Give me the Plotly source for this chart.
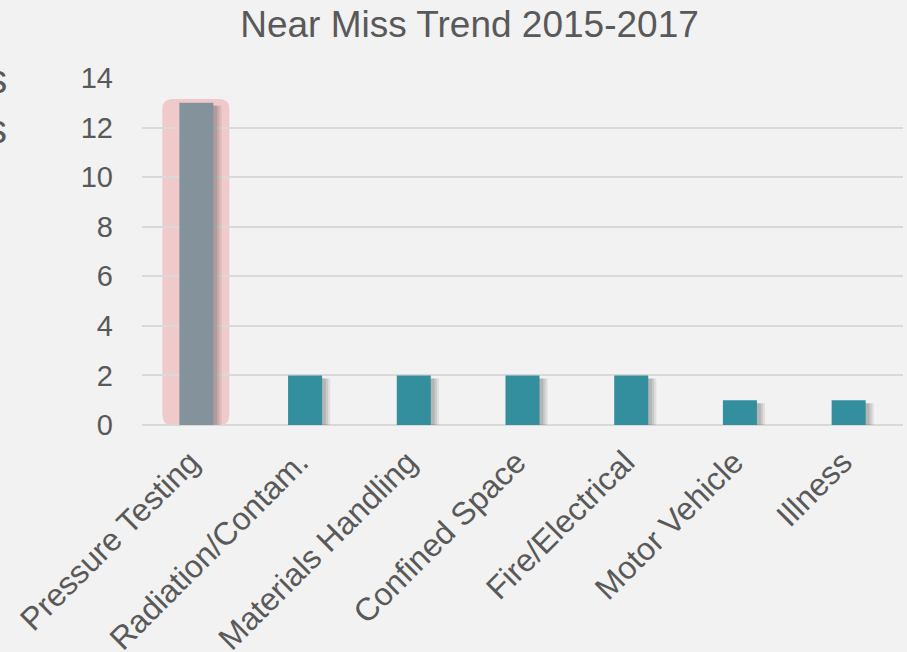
import plotly.graph_objects as go

categories = ["Pressure Testing", "Radiation/Contam.", "Materials Handling",
              "Confined Space", "Fire/Electrical", "Motor Vehicle", "Illness"]
values = [13, 2, 2, 2, 2, 1, 1]
bar_colors = ["#84939b"] + ["#338f9e"] * 6
y_ticks = [0, 2, 4, 6, 8, 10, 12, 14]
side_texts = ["Near Misses", "Incidents"]

W = 0.313
fig = go.Figure()

# soft shadow layers
for k, a in [(0.075, 0.10), (0.055, 0.12), (0.035, 0.14)]:
    fig.add_trace(go.Bar(
        x=categories, y=[v - 0.05 for v in values], base=-0.07,
        width=W, offset=-W / 2 + k,
        marker=dict(color=f"rgba(60,60,60,{a})", line=dict(width=0)),
        hoverinfo="skip", showlegend=False))
fig.add_trace(go.Bar(
    x=categories, y=values, width=W, offset=-W / 2,
    marker=dict(color=bar_colors, line=dict(width=0)),
    showlegend=False))

# highlight rounded rectangle around first bar (pixel sized, anchored at bar base)
r = 10
x0, x1, y0, y1 = -34, 33, 0, 326
path = (f"M {x0+r},{y0} L {x1-r},{y0} Q {x1},{y0} {x1},{y0+r} "
        f"L {x1},{y1-r} Q {x1},{y1} {x1-r},{y1} L {x0+r},{y1} "
        f"Q {x0},{y1} {x0},{y1-r} L {x0},{y0+r} Q {x0},{y0} {x0+r},{y0} Z")
fig.add_shape(type="path", xref="x", yref="y", xsizemode="pixel", ysizemode="pixel",
              xanchor=categories[0], yanchor=0, path=path,
              fillcolor="#f0cacb", line=dict(width=0), layer="below")

for py, txt in [(79, side_texts[0]), (129, side_texts[1])]:
    fig.add_annotation(xref="paper", yref="paper", x=(9 - 142) / 761,
                       y=(425 - py) / 347, xanchor="right",
                       yanchor="middle", text=txt, showarrow=False,
                       font=dict(size=40, color="#595959"))

fig.update_layout(
    width=907, height=652,
    paper_bgcolor="#f2f2f2", plot_bgcolor="#f2f2f2",
    margin=dict(l=142, r=4, t=78, b=227, autoexpand=False),
    barmode="overlay",
    font=dict(family="Liberation Sans, Arial, sans-serif", color="#595959"),
    title=dict(text="Near Miss Trend 2015-2017", x=469.5 / 907, xanchor="center",
               xref="container", yref="container",
               y=0.9625, yanchor="middle", font=dict(size=37, color="#595959")),
    xaxis=dict(tickangle=-45, tickfont=dict(size=32, color="#595959"),
               showgrid=False, showline=False, ticks="", range=[-0.5, 6.5],
               ticklabelstandoff=11, ticklabelshift=-6, automargin=False),
    yaxis=dict(range=[0, 14], tickvals=y_ticks, tickfont=dict(size=29, color="#595959"),
               gridcolor="#d9d9d9", gridwidth=1.5, zeroline=True, zerolinecolor="#d9d9d9",
               zerolinewidth=1.5, ticks="", ticklabelstandoff=28, automargin=False),
)

fig.write_html("out.html", config={"displayModeBar": False},
               post_script="document.body.style.margin='0';")
